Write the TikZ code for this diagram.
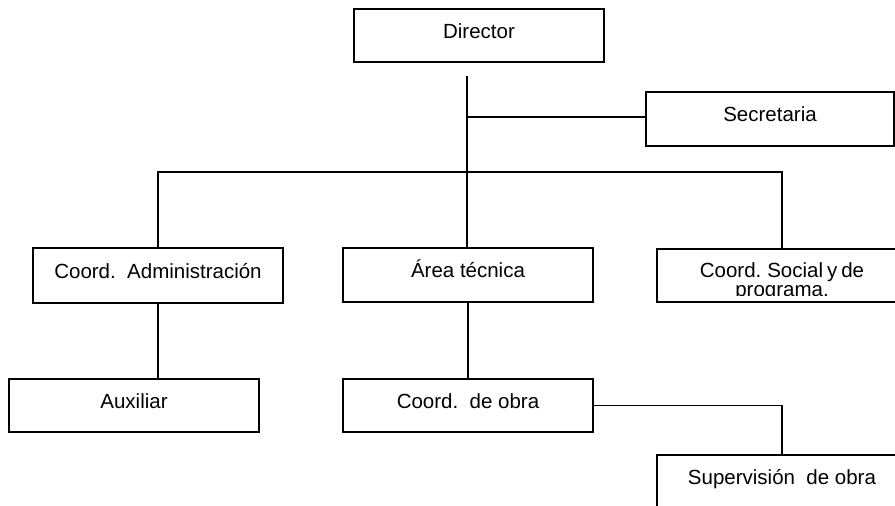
\documentclass[tikz,border=0pt]{standalone}
\usepackage{fontspec}
\setmainfont{Liberation Sans}
\begin{document}
\begin{tikzpicture}[x=1pt,y=-1pt,
  txt/.style={font=\fontsize{20.5}{19.5}\selectfont},
  box/.style={draw, line width=1.9pt, minimum width=250pt, minimum height=53pt,
    inner sep=0pt, text height=12pt, text depth=7pt, txt},
  conn/.style={line width=1.9pt}]
\useasboundingbox (0,0) rectangle (895,506);
\node[box] (dir) at (479,35.5) {Director};
\node[box, minimum width=248pt, minimum height=54pt] (sec) at (770,119) {Secretaria};
\node[box, minimum height=55pt] (adm) at (158,275.5) {Coord.\ \ Administración};
\node[box, minimum height=54pt] (tec) at (468,275) {Área técnica};
\node[box, minimum height=53pt] (soc) at (782,275.5) {};
\node[box] (aux) at (134,405.5) {Auxiliar};
\node[box] (obra) at (468,405.5) {Coord.\ \ de obra};
\node[box] (sup) at (782,481.5) {Supervisión\ \ de obra};
\begin{scope}
  \clip (soc.north west) rectangle ([yshift=7pt]soc.south east);
  \node[txt, align=center, inner sep=0pt, anchor=north] (soctext) at (782,262)
    {\spaceskip=4pt Coord. Social y de\\programa.};
\end{scope}
\coordinate (stemtop) at (467,76);
\coordinate (bus) at (467,172);
\coordinate (secj) at (467,117);
\draw[conn] (stemtop) -- (stemtop |- tec.north);
\draw[conn] (secj) -- (secj -| sec.west);
\draw[conn] (adm.north) -- (adm.north |- bus) -- (soc.north |- bus) -- (soc.north);
\draw[conn] (adm.south) -- (adm.south |- aux.north);
\draw[conn] (tec.south) -- (obra.north);
\draw[conn] (obra.east) -- (obra.east -| sup.north) -- (sup.north);
\end{tikzpicture}
\end{document}
